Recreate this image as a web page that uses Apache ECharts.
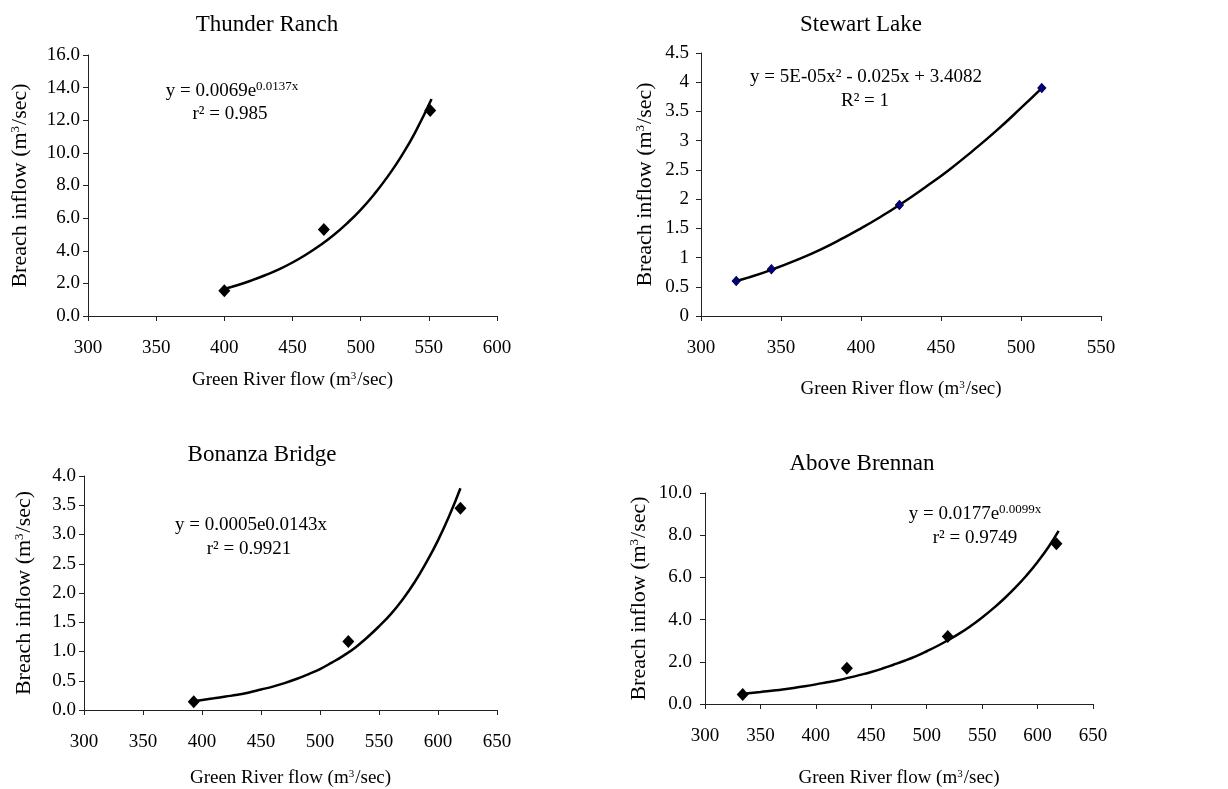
<!DOCTYPE html>
<html>
<head>
<meta charset="utf-8">
<title>Breach inflow vs Green River flow</title>
<script src="https://cdn.jsdelivr.net/npm/echarts@6/dist/echarts.min.js"></script>
<style>
  html, body { margin: 0; padding: 0; background: #fff; }
  #chart { width: 1228px; height: 789px; }
</style>
</head>
<body>
<div id="chart"></div>
<script>
// Thunder Ranch
const trFlow = [400, 473, 551];
const trInflow = [1.55, 5.3, 12.6];
const trFitFlow = [400, 410, 420, 430, 440, 450, 460, 470, 480, 490, 500, 510, 520, 530, 540, 552];
const trFitInflow = [1.66, 1.9, 2.18, 2.5, 2.86, 3.28, 3.77, 4.32, 4.95, 5.68, 6.51, 7.47, 8.57, 9.82, 11.26, 13.3];

// Stewart Lake
const slFlow = [322, 344, 424, 513];
const slInflow = [0.6, 0.8, 1.9, 3.9];
const slFitFlow = [322, 330, 344, 360, 375, 390, 400, 410, 424, 440, 455, 470, 485, 500, 513];
const slFitInflow = [0.6, 0.66, 0.79, 0.96, 1.14, 1.35, 1.5, 1.66, 1.9, 2.2, 2.5, 2.83, 3.18, 3.56, 3.9];

// Bonanza Bridge
const bbFlow = [393, 524, 619];
const bbInflow = [0.14, 1.17, 3.45];
const bbFitFlow = [396, 410, 420, 430, 440, 450, 460, 470, 480, 490, 500, 510, 520, 530, 540, 550, 560, 570, 580, 590, 600, 610, 619];
const bbFitInflow = [0.16, 0.2, 0.23, 0.26, 0.3, 0.35, 0.4, 0.46, 0.53, 0.61, 0.7, 0.81, 0.93, 1.07, 1.24, 1.43, 1.64, 1.89, 2.18, 2.52, 2.9, 3.34, 3.79];

// Above Brennan
const abFlow = [334, 428, 519, 617];
const abInflow = [0.45, 1.7, 3.2, 7.6];
const abFitFlow = [335, 350, 360, 370, 380, 390, 400, 410, 420, 430, 440, 450, 460, 470, 480, 490, 500, 510, 520, 530, 540, 550, 560, 570, 580, 590, 600, 610, 619];
const abFitInflow = [0.49, 0.57, 0.63, 0.69, 0.76, 0.84, 0.93, 1.03, 1.13, 1.25, 1.38, 1.52, 1.68, 1.86, 2.05, 2.26, 2.5, 2.76, 3.05, 3.36, 3.71, 4.1, 4.53, 5.0, 5.52, 6.09, 6.73, 7.45, 8.2];

const titles = ['Thunder Ranch', 'Stewart Lake', 'Bonanza Bridge', 'Above Brennan'];

const FONT = 'Liberation Serif';
const chart = echarts.init(document.getElementById('chart'));

const zip = (xs, ys) => xs.map((x, i) => [x, ys[i]]);

const grids = [
  { left: 88, top: 55, width: 409, height: 261 },
  { left: 701, top: 53, width: 400, height: 263 },
  { left: 84, top: 476, width: 413, height: 235 },
  { left: 705, top: 493, width: 388, height: 212 }
];

const xRanges = [[300, 600], [300, 550], [300, 650], [300, 650]];
const yRanges = [[0, 16, 2], [0, 4.5, 0.5], [0, 4, 0.5], [0, 10, 2]];
const yFixed = [true, false, true, true];
const yNameGap = [57, 45, 49, 55];
const yLabelMargin = [8, 12, 8, 13];
const xNameGap = [55, 64, 59, 65];

const nameRich = {
  a: { fontFamily: FONT, fontSize: 19, color: '#000' },
  s: { fontFamily: FONT, fontSize: 11, color: '#000', verticalAlign: 'top', padding: [0, 1, 8, 0] }
};
const yNameRich = {
  a: { fontFamily: FONT, fontSize: 22, color: '#000' },
  s: { fontFamily: FONT, fontSize: 13, color: '#000', verticalAlign: 'top', padding: [0, 1, 9, 0] }
};

const axisLine = { show: true, lineStyle: { color: '#222', width: 1 } };
const axisTick = { show: true, inside: false, length: 5, lineStyle: { color: '#222', width: 1 } };

const xAxis = grids.map((g, i) => ({
  type: 'value',
  gridIndex: i,
  min: xRanges[i][0],
  max: xRanges[i][1],
  interval: 50,
  name: '{a|Green River flow (m}{s|3}{a|/sec)}',
  nameLocation: 'middle',
  nameGap: xNameGap[i],
  nameTextStyle: { rich: nameRich },
  axisLine: axisLine,
  axisTick: axisTick,
  splitLine: { show: false },
  axisLabel: { fontFamily: FONT, fontSize: 19, color: '#000', margin: 23 }
}));

const yAxis = grids.map((g, i) => ({
  type: 'value',
  gridIndex: i,
  min: yRanges[i][0],
  max: yRanges[i][1],
  interval: yRanges[i][2],
  name: '{a|Breach inflow (m}{s|3}{a|/sec)}',
  nameLocation: 'middle',
  nameRotate: 90,
  nameGap: yNameGap[i],
  nameTextStyle: { rich: yNameRich },
  axisLine: axisLine,
  axisTick: axisTick,
  splitLine: { show: false },
  axisLabel: {
    fontFamily: FONT, fontSize: 19, color: '#000', margin: yLabelMargin[i],
    formatter: yFixed[i] ? (v) => v.toFixed(1) : (v) => String(v)
  }
}));

const fits = [zip(trFitFlow, trFitInflow), zip(slFitFlow, slFitInflow), zip(bbFitFlow, bbFitInflow), zip(abFitFlow, abFitInflow)];
const pts = [zip(trFlow, trInflow), zip(slFlow, slInflow), zip(bbFlow, bbInflow), zip(abFlow, abInflow)];

const series = [];
fits.forEach((d, i) => {
  series.push({
    type: 'line',
    xAxisIndex: i,
    yAxisIndex: i,
    data: d,
    smooth: true,
    showSymbol: false,
    silent: true,
    lineStyle: { color: '#000', width: 2.5 },
    z: 2
  });
  series.push({
    type: 'scatter',
    xAxisIndex: i,
    yAxisIndex: i,
    data: pts[i],
    symbol: 'diamond',
    symbolSize: i === 1 ? [8, 9] : [12, 13],
    itemStyle: i === 1
      ? { color: '#000080', borderColor: '#000050', borderWidth: 1, opacity: 1 }
      : { color: '#000', opacity: 1 },
    z: 3
  });
});

const eqRich = {
  b: { fontFamily: FONT, fontSize: 19, fill: '#000', color: '#000', lineHeight: 22 },
  s: { fontFamily: FONT, fontSize: 13, fill: '#000', color: '#000', lineHeight: 22, verticalAlign: 'top' }
};

function txt(x, y, text, size, rich) {
  return {
    type: 'text',
    x: x,
    y: y,
    style: {
      text: text,
      font: size + 'px "' + FONT + '"',
      fill: '#000',
      align: 'center',
      verticalAlign: 'middle',
      rich: rich
    }
  };
}

const graphic = [
  txt(267, 25, titles[0], 23),
  txt(861, 25, titles[1], 23),
  txt(262, 455, titles[2], 23),
  txt(862, 464, titles[3], 23),
  txt(232, 91, '{b|y = 0.0069e}{s|0.0137x}', 19, eqRich),
  txt(230, 114, '{b|r² = 0.985}', 19, eqRich),
  txt(866, 77, '{b|y = 5E-05x² - 0.025x + 3.4082}', 19, eqRich),
  txt(865, 101, '{b|R² = 1}', 19, eqRich),
  txt(251, 525, '{b|y = 0.0005e0.0143x}', 19, eqRich),
  txt(249, 549, '{b|r² = 0.9921}', 19, eqRich),
  txt(975, 514, '{b|y = 0.0177e}{s|0.0099x}', 19, eqRich),
  txt(975, 538, '{b|r² = 0.9749}', 19, eqRich)
];

chart.setOption({
  animation: false,
  backgroundColor: '#fff',
  grid: grids,
  xAxis: xAxis,
  yAxis: yAxis,
  series: series,
  graphic: graphic
});
</script>
</body>
</html>
